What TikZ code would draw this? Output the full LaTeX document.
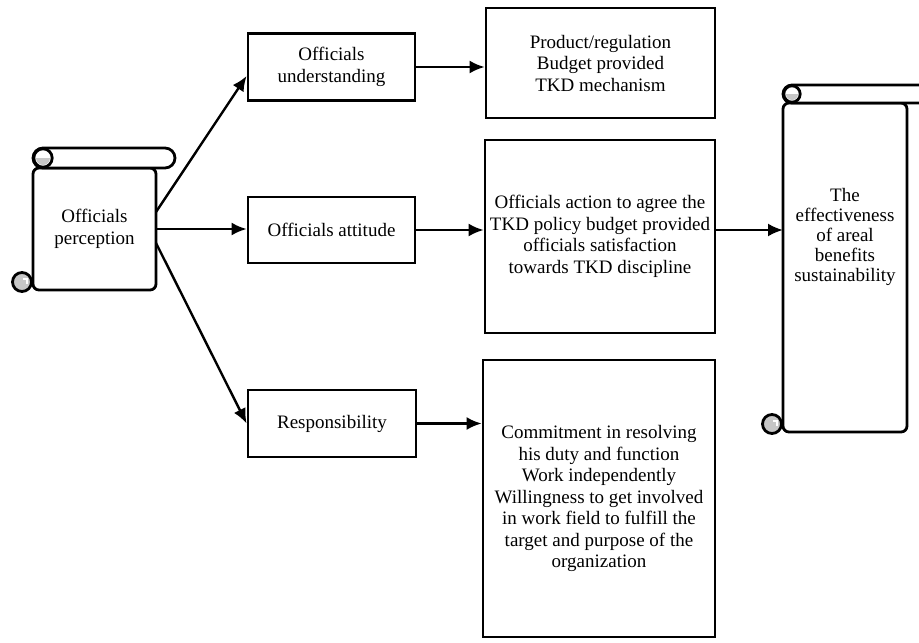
\documentclass[tikz,border=0pt]{standalone}
\usepackage{fontspec}
\setmainfont{Liberation Serif}
\usetikzlibrary{arrows.meta}

\definecolor{curlgray}{gray}{0.78}

% scroll roll and curl: #1 left x, #2 body top y, #3 roll right x, #4 roll height, #5 body bottom y
\newcommand\scrollparts[5]{
  \pgfmathsetmacro\rollr{#4/2}
  \draw[scrollline,fill=white,rounded corners=\rollr pt] (#1,#2) rectangle (#3,#2-#4);
  \draw[scrollline,fill=white] (#1+\rollr,#2-\rollr) circle[radius=\rollr-0.8];
  \begin{scope}
    \clip (#1,#2-\rollr) rectangle (#1+#4,#2);
    \fill[curlgray] (#1+\rollr,#2-\rollr) circle[radius=\rollr-3];
  \end{scope}
  \draw[scrollline,fill=curlgray] (#1-11,#5-8) circle[radius=9.5];
  \draw[white,line width=1.3pt] (#1-10,#5-11) -- (#1-6,#5-11) -- (#1-6,#5-6);
}

\begin{document}
\begin{tikzpicture}[x=1pt,y=-1pt,>={Latex[length=15pt,width=13pt]},
  box/.style={draw,line width=2.8pt,align=center,inner sep=2pt,
    font=\fontsize{19}{21.5}\selectfont},
  scrollbody/.style={box,rounded corners=6pt,outer sep=0pt},
  scrollline/.style={line width=2.8pt},
  arr/.style={->,line width=2.4pt},
  ]
  \useasboundingbox (0,0) rectangle (919,643);
  \clip (0,0) rectangle (919,643);

  % left scroll
  \node[scrollbody,minimum width=123,minimum height=122] (perc) at (94.5,229) {Officials\\perception};
  \scrollparts{33}{168}{175}{20}{290}

  % middle column
  \node[box,minimum width=167,minimum height=67] (under) at (331.5,67) {Officials\\understanding};
  \node[box,minimum width=167,minimum height=66] (attit) at (331.5,230) {Officials attitude};
  \node[box,minimum width=168,minimum height=67] (resp) at (332,423.5) {Responsibility};

  % right column
  \node[box,minimum width=229,minimum height=110] (prod) at (600.5,63)
    {Product/regulation\\Budget provided\\TKD mechanism};
  \node[box,minimum width=230,minimum height=193] (action) at (600,236.5)
    {Officials action to agree the\\TKD policy budget provided\\officials satisfaction\\towards TKD discipline};
  \node[box,minimum width=232,minimum height=277] (commit) at (599,498.5)
    {Commitment in resolving\\his duty and function\\Work independently\\Willingness to get involved\\in work field to fulfill the\\target and purpose of the\\organization};

  % right scroll
  \node[scrollbody,minimum width=124,minimum height=329] (effectbody) at (845,267.5) {};
  \scrollparts{783}{103}{935}{18}{432}
  \node[align=center,font=\fontsize{19}{20}\selectfont] (effect) at (845,237)
    {The\\effectiveness\\of areal\\benefits\\sustainability};

  % connectors
  \draw[arr] ([yshift=17pt]perc.east) -- ([yshift=-9pt]under.west);
  \draw[arr] (perc.east) -- (perc.east -| attit.west);
  \draw[arr] ([yshift=-14pt]perc.east) -- (resp.west);
  \draw[arr] (under.east) -- (under.east -| prod.west);
  \draw[arr] (attit.east) -- (attit.east -| action.west);
  \draw[arr] (resp.east) -- (resp.east -| commit.west);
  \draw[arr] (attit.east -| action.east) -- (attit.east -| effectbody.west);

\end{tikzpicture}
\end{document}
